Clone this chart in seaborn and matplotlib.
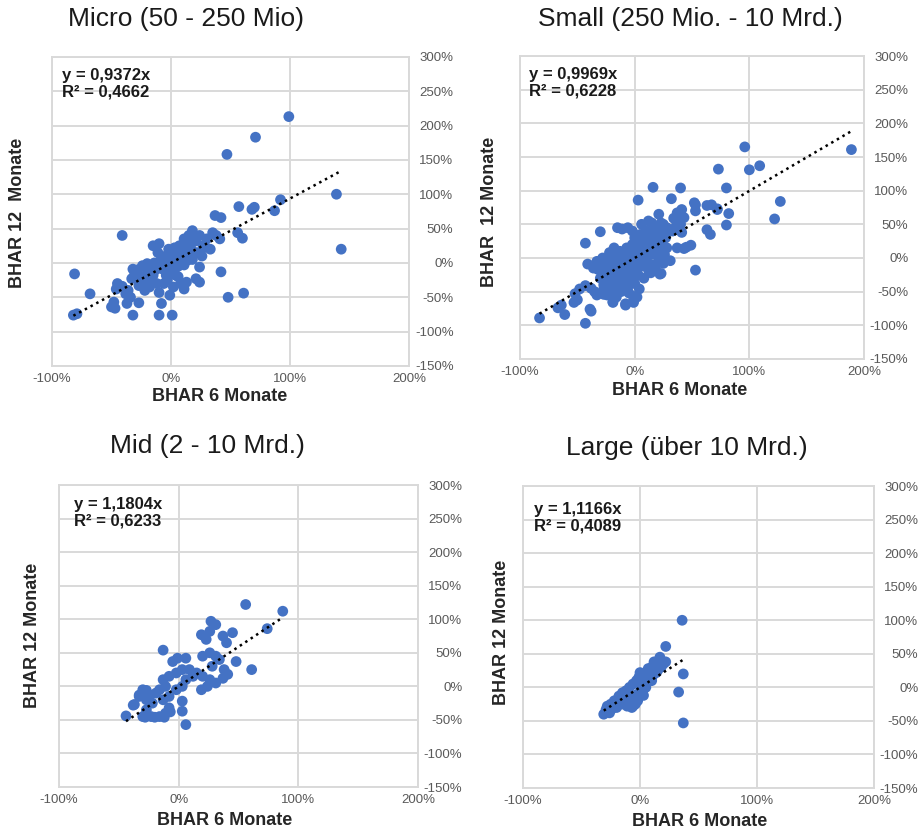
import numpy as np
import matplotlib.pyplot as plt
import seaborn as sns
from matplotlib.ticker import FuncFormatter

sns.set_theme(style="whitegrid")
plt.rcParams['font.family'] = ['Liberation Sans', 'DejaVu Sans']

# BHAR values in percent (6 months -> x, 12 months -> y)
micro_x = [-82, -79, -81, -68, -41, -50, -47, -48, -32, -37, -27, -34, -45, -46, -41, -32, -31, -33,
           -24, -20, -27, -21, -15, -10, -11, -10, -7, -4, -10, -8, -10, 1, -1, -15, -13, -18, -1, 3,
           1, 4, 7, 11, 15, 18, 13, 10, 17, 21, 24, 27, 29, 22, 18, 15, 11, 24, 21, 24, 11, 13, 35,
           38, 41, 37, 42, 42, 48, 56, 60, 61, 57, 68, 70, 87, 92, 47, 71, 99, 139, 143,
           -5, 0, 5, -3, 6, 8, 2, -6, -20, -25, -28, 12, 8, 6, 16, 19, -38, -36, -22, -18, -12, 3,
           -2, 14, 26, 30, 33, -8, -14, -17]
micro_y = [-76, -74, -16, -45, 40, -64, -66, -57, -76, -59, -58, -50, -30, -38, -34, -9, -19, -23,
           -4, -1, -33, -28, 25, 28, 15, 1, -9, -18, -43, -59, -76, -76, -47, -18, -10, -23, 11, 13,
           -9, -18, 25, 35, 40, 47, 27, 15, 20, 32, 40, 25, 23, 15, 5, 10, -3, -6, -23, -28, -38, -28,
           44, 40, 35, 69, 66, -13, -50, 44, 36, -44, 82, 78, 81, 76, 92, 158, 183, 213, 100, 20,
           5, 0, 5, -25, -20, -30, -35, -30, -15, -20, -10, 20, 8, -5, 30, 36, -45, -40, -40, -35,
           -30, 22, 20, 4, 10, 35, 20, 10, 0, -5]

small_x = [189, 96, 100, 109, 73, 127, 122, 80, 82, 80, 63, 66, 53, 53, 53, 63, 67, 72, 40, 16, 3,
           32, 21, 40, 41, 34, -30, -43, -15, -11, -41, -36, -32, -43, -52, -50, -53, -67, -61, -83,
           -43, -38, -8, -1, 4, -1, -19, -27, 31, 49, 43, 37, 22, 52, 72, 37, 41, 43, 39, 36, 33, 41,
           40, 15, 23, 28, -48, -51, -64, -39, -19, -8, -1, 2, 23, 45, -27, -24, -21, -27, -18, -12, -6,
           -30, -28, -27, -25, -25, -23, -22, -21, -20, -20, -19, -18, -17, -16, -15, -15, -14, -13,
           -12, -12, -11, -10, -10, -9, -8, -8, -7, -6, -6, -5, -4, -3, -3, -2, -1, 0, 0, 1, 2, 2, 3,
           4, 5, 5, 6, 7, 8, 8, 9, 10, 10, 11, 12, 13, 14, 15, 16, 17, 18, 19, 20, 21, 22, 23, 24, 25,
           26, 27, 28, 30, -35, -33, -32, -38, -24, -16, -5, 14, 18, 25, -2, 0, -18, -22, -28, -33, 6,
           12, -6]
small_y = [161, 165, 131, 137, 132, 84, 58, 104, 66, 49, 42, 35, -18, 79, 70, 78, 79, 72, 104, 105,
           86, 88, 65, 69, 62, 59, 39, 22, 45, 43, -9, -15, -17, -41, -53, -62, -66, -74, -84, -89,
           -97, -79, -70, -66, -46, -57, -66, -54, -4, 19, 14, 15, -24, 82, 73, 67, 72, 60, 52, 47, 40,
           38, 50, 52, 52, 45, -46, -63, -70, -76, -65, -68, -63, -58, -23, 16, -16, -26, -36, -46, -50,
           -50, -43,
           -30, -20, -40, -10, -35, -25, -45, -5, -15, -30, -50, -38, 0, -20, -8, -42, -28, 10,
           -15, -35, -2, -25, -48, 5, -12, -32, 15, -5, -40, -20, 8, -10, -30, 20, 0, -15, -38, 10, -5,
           28, -25, 15, 0, 35, -12, 22, 5, -30, 30, -5, 40, 15, -18, 25, 5, 35, -10, 18, 45, 8, 28, -2,
           38, 12, 22, 50, 5, 30, 15, 42, -50, -55, -15, -45, -55, -58, -52, -22, -15, -8, 40, 30, 15,
           8, 0, -5, 50, 55, 45]

mid_x = [56, 87, 74, 27, 31, 26, 19, 23, 37, 40, 45, -13, -5, -1, 6, 48, 61, 20, 26, 31, 28, 34, 38,
         41, 37, -8, -2, 3, 9, 12, 6, 15, 20, 26, 19, 24, 31, -13, -11, -16, -19, -25, -30, -27, -33,
         -37, -44, -22, -13, -8, -2, 3, 3, 3, 6, -30, -23, -16, -11, -8, -27, -38, -33, -27, -24,
         -28, -20, -12, -7]
mid_y = [122, 112, 86, 97, 92, 82, 77, 70, 75, 65, 80, 54, 37, 42, 42, 37, 25, 45, 50, 45, 30, 40,
         25, 18, 12, 15, 20, 25, 25, 15, 10, 20, 15, 10, -5, 0, 5, 10, 0, -5, -10, -15, -5, -20, -15,
         -27, -44, -25, -20, -15, -5, 0, -22, -37, -57, -45, -45, -45, -40, -32, -35, -28, -13, -6,
         -13, -46, -46, -46, -38]

large_x = [36, 22, 37, 33, 37, 17, 12, 20, 22, 10, 15, 8, 2, -1, 4, -3, -6, -9, -12, -15, -18, -19,
           -22, -25, -28, -29, -31, -26, 2, -2, -5, -8, -11, -6, -2, -14, -16, 5, 10, 11, 7, -4, -7,
           0, 5, 8, 12, 14, 18, -1, 3, -8, -10, -20, -24, -27]
large_y = [100, 61, 20, -7, -53, 45, 38, 35, 38, 30, 25, 20, 20, 15, 8, 10, 5, 0, -5, -8, -13, -18,
           -20, -25, -28, -33, -40, -38, -8, -10, -18, -23, -28, -28, -20, -15, -25, 0, 10, 18, 28,
           -25, -30, 22, 20, 25, 30, 22, 30, 5, -12, -15, -20, -30, -32, -30]

titles = ['Micro (50 - 250 Mio)', 'Small (250 Mio. - 10 Mrd.)', 'Mid (2 - 10 Mrd.)', 'Large (über 10 Mrd.)']
slopes = [0.9372, 0.9969, 1.1804, 1.1166]
r2_text = ['0,4662', '0,6228', '0,6233', '0,4089']
ylabels = ['BHAR 12  Monate', 'BHAR  12 Monate', 'BHAR 12 Monate', 'BHAR 12 Monate']
xticks = [-100, 0, 100, 200]
yticks = list(range(-150, 301, 50))

panels = [(micro_x, micro_y), (small_x, small_y), (mid_x, mid_y), (large_x, large_y)]

# axes rectangles, title position, label positions, equation position
axes_rects = [[0.0566, 0.5596, 0.389, 0.372], [0.5665, 0.568, 0.3747, 0.3646],
              [0.0643, 0.0529, 0.391, 0.3634], [0.5697, 0.0517, 0.3824, 0.3634]]
title_pos = [(186 / 918, 1 - 19 / 831), (690 / 918, 1 - 19 / 831),
             (207 / 918, 1 - 446 / 831), (687 / 918, 1 - 448 / 831)]
ylab_pos = [(-0.073, 0.494), (-0.064, 0.485), (-0.05, 0.503), (-0.037, 0.517)]
xlab_pos = [(0.47, -0.071), (0.465, -0.076), (0.462, -0.083), (0.504, -0.083)]
eq_pos = [(0.028, 0.964), (0.026, 0.964), (0.042, 0.96), (0.031, 0.947)]

blue = '#4472C4'
grid_c = '#d9d9d9'
pct = FuncFormatter(lambda v, _: f"{v:.0f}%")

fig = plt.figure(figsize=(9.18, 8.31), dpi=100)

for i, (xs, ys) in enumerate(panels):
    ax = fig.add_axes(axes_rects[i])
    sns.scatterplot(x=xs, y=ys, ax=ax, color=blue, s=60, edgecolor='none', zorder=3)

    xmin, xmax = min(xs), max(xs)
    ax.plot([xmin, xmax], [slopes[i] * xmin, slopes[i] * xmax], color='black',
            linestyle=(0, (1, 1.6)), linewidth=1.8, zorder=4)

    ax.set_xlim(-100, 200)
    ax.set_ylim(-150, 300)
    ax.set_xticks(xticks)
    ax.set_yticks(yticks)
    ax.xaxis.set_major_formatter(pct)
    ax.yaxis.set_major_formatter(pct)
    ax.yaxis.tick_right()
    ax.tick_params(axis='both', length=0, labelsize=9.5, labelcolor='#595959')
    ax.tick_params(axis='y', pad=32)
    ax.tick_params(axis='x', pad=5)
    for lab in ax.get_yticklabels():
        lab.set_horizontalalignment('right')

    ax.grid(True, color=grid_c, linewidth=1.4)
    ax.set_facecolor('white')
    for sp in ax.spines.values():
        sp.set_color(grid_c)
        sp.set_linewidth(1.4)

    ax.set_xlabel('BHAR 6 Monate', fontsize=13, fontweight='bold', color='#262626')
    ax.xaxis.set_label_coords(*xlab_pos[i])
    ax.set_ylabel(ylabels[i], fontsize=13, fontweight='bold', color='#262626')
    ax.yaxis.set_label_position('left')
    ax.yaxis.set_label_coords(*ylab_pos[i])

    eq = f"y = {slopes[i]:.4f}x".replace('.', ',') + f"\nR² = {r2_text[i]}"
    ax.text(eq_pos[i][0], eq_pos[i][1], eq, transform=ax.transAxes, ha='left', va='top',
            fontsize=12, fontweight='bold', color='#1a1a1a', linespacing=1.1, zorder=5)

    fig.text(title_pos[i][0], title_pos[i][1], titles[i], ha='center', va='center',
             fontsize=19, color='#1a1a1a')

fig.savefig('out.png', dpi=100)
